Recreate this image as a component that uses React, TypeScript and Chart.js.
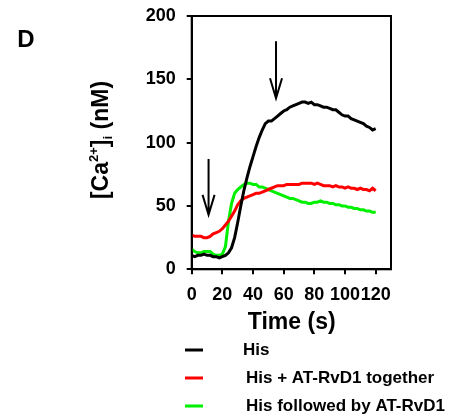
import React, { useEffect, useRef } from "react";
import Chart from "chart.js/auto";

const times = [
  0, 2, 4, 6, 8, 10, 12, 14, 16, 18,
  20, 22, 24, 26, 28, 30, 32, 34, 36, 38,
  40, 42, 44, 46, 48, 50, 52, 54, 56, 58,
  60, 62, 64, 66, 68, 70, 72, 74, 76, 78,
  80, 82, 84, 86, 88, 90, 92, 94, 96, 98,
  100, 102, 104, 106, 108, 110, 112, 114, 116, 118,
  120,
];

const hisValues = [
  11, 10, 11, 11, 12, 11, 11, 10, 10, 9,
  10, 11, 13, 17, 25, 37, 50, 62, 72, 81,
  89, 97, 104, 110, 115, 117, 117, 119, 121, 123,
  125, 126, 128, 129, 130, 131, 132, 132, 131, 132,
  130, 130, 129, 128, 128, 127, 126, 126, 124, 122,
  121, 121, 119, 118, 117, 116, 115, 113, 112, 110,
  111,
];

const togetherValues = [
  27, 26, 26, 26, 25, 25, 26, 28, 29, 30,
  32, 35, 38, 42, 46, 51, 54, 56, 57, 58,
  59, 60, 60, 61, 62, 63, 64, 65, 66, 66,
  66, 67, 67, 67, 67, 67, 68, 68, 68, 68,
  67, 68, 67, 66, 66, 66, 65, 66, 65, 65,
  64, 65, 64, 64, 63, 64, 63, 63, 62, 64,
  62,
];

const followedValues = [
  16, 14, 13, 13, 14, 14, 14, 12, 11, 11,
  12, 18, 38, 52, 60, 63, 65, 67, 68, 68,
  67, 67, 65, 65, 64, 63, 62, 61, 60, 59,
  58, 57, 56, 56, 55, 54, 53, 53, 52, 52,
  53, 53, 54, 53, 53, 52, 52, 51, 51, 50,
  50, 49, 49, 48, 48, 47, 47, 46, 46, 45,
  45,
];

const seriesLabels = ["His", "His + AT-RvD1 together", "His followed by AT-RvD1"];
const seriesColors = ["#000000", "#ff0000", "#00f000"];

const xTicks = [0, 20, 40, 60, 80, 100, 120];
const yTicks = [0, 50, 100, 150, 200];

const arrowTimes = [11, 55];
const arrowTops = [87, 180];
const arrowTips = [43, 135];

const FONT = "'Liberation Sans', Arial, sans-serif";

const decorPlugin = {
  id: "decor",
  afterDatasetsDraw(chart: any) {
    const ctx = chart.ctx;
    const { left, right, top, bottom } = chart.chartArea;
    const xs = chart.scales.x;
    const ys = chart.scales.y;
    ctx.save();
    ctx.strokeStyle = "#000";
    ctx.lineWidth = 2;
    ctx.strokeRect(left, top, right - left, bottom - top);
    ctx.lineWidth = 2;
    for (let i = 0; i < arrowTimes.length; i++) {
      const x = xs.getPixelForValue(arrowTimes[i]);
      const y1 = ys.getPixelForValue(arrowTops[i]);
      const y2 = ys.getPixelForValue(arrowTips[i]);
      ctx.beginPath();
      ctx.moveTo(x, y1);
      ctx.lineTo(x, y2);
      ctx.moveTo(x - 6, y2 - 20);
      ctx.lineTo(x, y2);
      ctx.lineTo(x + 6, y2 - 20);
      ctx.stroke();
    }
    ctx.restore();
  },
  afterDraw(chart: any) {
    const ctx = chart.ctx;
    ctx.save();
    ctx.fillStyle = "#000";
    ctx.font = `bold 24px ${FONT}`;
    ctx.textAlign = "center";
    ctx.textBaseline = "middle";
    ctx.fillText("D", 26, 40);

    ctx.font = `bold 23px ${FONT}`;
    ctx.fillText("Time (s)", 291.7, 323);

    const parts: [string, number, number][] = [
      ["[Ca", 23, 0],
      ["2+", 13, -8],
      ["]", 23, 0],
      ["i", 13, 6],
      [" (nM)", 23, 0],
    ];
    let total = 0;
    for (const [t, s] of parts) {
      ctx.font = `bold ${s}px ${FONT}`;
      total += ctx.measureText(t).width;
    }
    ctx.translate(101, 140);
    ctx.rotate(-Math.PI / 2);
    ctx.textAlign = "left";
    let cx = -total / 2;
    for (const [t, s, dy] of parts) {
      ctx.font = `bold ${s}px ${FONT}`;
      ctx.fillText(t, cx, dy + 1);
      cx += ctx.measureText(t).width;
    }
    ctx.setTransform(chart.currentDevicePixelRatio, 0, 0, chart.currentDevicePixelRatio, 0, 0);

    const rowsY = [350, 378, 406];
    const textX = [243, 246, 246];
    ctx.font = `bold 17px ${FONT}`;
    ctx.textAlign = "left";
    ctx.textBaseline = "middle";
    for (let i = 0; i < seriesLabels.length; i++) {
      ctx.strokeStyle = seriesColors[i];
      ctx.lineWidth = 3;
      ctx.beginPath();
      ctx.moveTo(185, rowsY[i]);
      ctx.lineTo(203, rowsY[i]);
      ctx.stroke();
      ctx.fillStyle = "#000";
      ctx.fillText(seriesLabels[i], textX[i], rowsY[i]);
    }
    ctx.restore();
  },
};

export default function App() {
  const ref = useRef<HTMLCanvasElement | null>(null);

  useEffect(() => {
    document.body.style.margin = "0";
    const canvas = ref.current;
    if (!canvas) return;
    const allSeries = [hisValues, togetherValues, followedValues];
    const chart = new Chart(canvas, {
      type: "line",
      data: {
        datasets: allSeries.map((vals, i) => ({
          label: seriesLabels[i],
          data: times.map((t, j) => ({ x: t, y: vals[j] })),
          borderColor: seriesColors[i],
          borderWidth: 3,
          pointRadius: 0,
          tension: 0,
          fill: false,
        })),
      },
      options: {
        animation: false,
        responsive: false,
        layout: { padding: { left: 0, top: 16, right: 60, bottom: 0 } },
        plugins: {
          legend: { display: false },
          tooltip: { enabled: false },
        },
        scales: {
          x: {
            type: "linear",
            min: 0,
            max: 130,
            afterBuildTicks: (scale: any) => {
              scale.ticks = xTicks.map((v) => ({ value: v }));
            },
            afterFit: (scale: any) => {
              scale.height = 148.7;
              scale.paddingLeft = 0;
              scale.paddingRight = 0;
            },
            grid: {
              drawOnChartArea: false,
              tickLength: 5,
              color: "#000",
              lineWidth: 2,
            },
            border: { display: true, color: "#000", width: 2 },
            ticks: {
              autoSkip: false,
              maxRotation: 0,
              padding: 10,
              color: "#000",
              font: { family: FONT, size: 18, weight: "bold" },
            },
          },
          y: {
            type: "linear",
            min: 0,
            max: 200,
            afterBuildTicks: (scale: any) => {
              scale.ticks = yTicks.map((v) => ({ value: v }));
            },
            afterFit: (scale: any) => {
              scale.width = 191.7;
              scale.paddingTop = 0;
              scale.paddingBottom = 0;
            },
            grid: {
              drawOnChartArea: false,
              tickLength: 5,
              color: "#000",
              lineWidth: 2,
            },
            border: { display: true, color: "#000", width: 2 },
            ticks: {
              padding: 11,
              color: "#000",
              font: { family: FONT, size: 18, weight: "bold" },
            },
          },
        },
      },
      plugins: [decorPlugin],
    } as any);
    return () => chart.destroy();
  }, []);

  return (
    <div style={{ position: "relative", width: 451, height: 418, background: "#fff" }}>
      <canvas ref={ref} width={451} height={418} style={{ display: "block", width: 451, height: 418 }} />
    </div>
  );
}
